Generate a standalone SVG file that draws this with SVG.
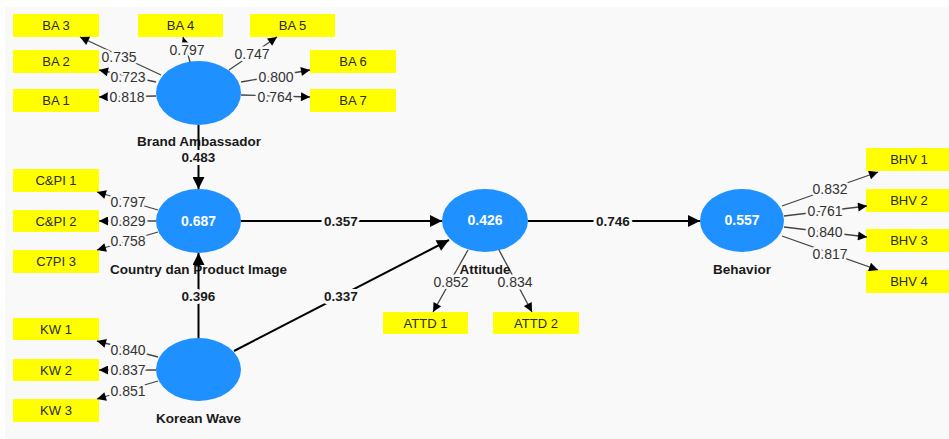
<svg xmlns="http://www.w3.org/2000/svg" width="949" height="439" viewBox="0 0 949 439">
<defs>
<style>
.box{fill:#ffff00}
.bt{font-family:"Liberation Sans",Arial,sans-serif;font-size:13px;fill:#2a2a2a;text-anchor:middle}
.lv{fill:#1e90ff}
.lvv{font-family:"Liberation Sans",Arial,sans-serif;font-size:14px;font-weight:bold;fill:#ffffff;text-anchor:middle}
.ln{font-family:"Liberation Sans",Arial,sans-serif;font-size:13.5px;font-weight:bold;fill:#1a1a1a;text-anchor:middle}
.ol{stroke:#444;stroke-width:1.3;fill:none;marker-end:url(#sa)}
.st{stroke:#000;stroke-width:2;fill:none;marker-end:url(#la)}
.olt{font-family:"Liberation Sans",Arial,sans-serif;font-size:14px;fill:#333;text-anchor:middle;paint-order:stroke;stroke:#f9f9f9;stroke-width:5px;stroke-linejoin:round}
.stt{font-family:"Liberation Sans",Arial,sans-serif;font-size:13.5px;font-weight:bold;fill:#1a1a1a;text-anchor:middle;paint-order:stroke;stroke:#f9f9f9;stroke-width:6px;stroke-linejoin:round}
</style>
<marker id="sa" viewBox="0 0 10 10" refX="10" refY="5" markerWidth="10" markerHeight="9" markerUnits="userSpaceOnUse" orient="auto"><path d="M0,0 L10,5 L0,10 z" fill="#000"/></marker>
<marker id="la" viewBox="0 0 10 10" refX="10" refY="5" markerWidth="13" markerHeight="12" markerUnits="userSpaceOnUse" orient="auto"><path d="M0,0 L10,5 L0,10 z" fill="#000"/></marker>
</defs>
<rect x="0" y="0" width="949" height="439" fill="#ffffff"/>
<rect x="5" y="7" width="944" height="432" fill="#f9f9f9"/>

<g id="ind-BA3"><rect class="box" x="13" y="14" width="86" height="23"/><text class="bt" x="56" y="25.5" dy="0.35em">BA 3</text></g>
<g id="ind-BA4"><rect class="box" x="138" y="14" width="85" height="23"/><text class="bt" x="180.5" y="25.5" dy="0.35em">BA 4</text></g>
<g id="ind-BA5"><rect class="box" x="250" y="14" width="85" height="23"/><text class="bt" x="292.5" y="25.5" dy="0.35em">BA 5</text></g>
<g id="ind-BA2"><rect class="box" x="13" y="50" width="86" height="23"/><text class="bt" x="56" y="61.5" dy="0.35em">BA 2</text></g>
<g id="ind-BA1"><rect class="box" x="13" y="89" width="86" height="23"/><text class="bt" x="56" y="100.5" dy="0.35em">BA 1</text></g>
<g id="ind-BA6"><rect class="box" x="310" y="50" width="86" height="23"/><text class="bt" x="353" y="61.5" dy="0.35em">BA 6</text></g>
<g id="ind-BA7"><rect class="box" x="310" y="89" width="86" height="23"/><text class="bt" x="353" y="100.5" dy="0.35em">BA 7</text></g>

<g id="ind-CPI1"><rect class="box" x="13" y="169" width="86" height="23"/><text class="bt" x="56" y="180.5" dy="0.35em">C&amp;PI 1</text></g>
<g id="ind-CPI2"><rect class="box" x="13" y="210" width="86" height="22"/><text class="bt" x="56" y="221" dy="0.35em">C&amp;PI 2</text></g>
<g id="ind-CPI3"><rect class="box" x="13" y="250" width="86" height="23"/><text class="bt" x="56" y="261.5" dy="0.35em">C7PI 3</text></g>

<g id="ind-KW1"><rect class="box" x="13" y="318" width="86" height="22"/><text class="bt" x="56" y="329" dy="0.35em">KW 1</text></g>
<g id="ind-KW2"><rect class="box" x="13" y="359" width="86" height="22"/><text class="bt" x="56" y="370" dy="0.35em">KW 2</text></g>
<g id="ind-KW3"><rect class="box" x="13" y="399" width="86" height="23"/><text class="bt" x="56" y="410.5" dy="0.35em">KW 3</text></g>

<g id="ind-ATTD1"><rect class="box" x="383" y="312" width="85" height="22"/><text class="bt" x="425.5" y="323" dy="0.35em">ATTD 1</text></g>
<g id="ind-ATTD2"><rect class="box" x="493" y="312" width="86" height="22"/><text class="bt" x="536" y="323" dy="0.35em">ATTD 2</text></g>

<g id="ind-BHV1"><rect class="box" x="866" y="148" width="86" height="23"/><text class="bt" x="909" y="159.5" dy="0.35em">BHV 1</text></g>
<g id="ind-BHV2"><rect class="box" x="866" y="189" width="86" height="23"/><text class="bt" x="909" y="200.5" dy="0.35em">BHV 2</text></g>
<g id="ind-BHV3"><rect class="box" x="866" y="229" width="86" height="23"/><text class="bt" x="909" y="240.5" dy="0.35em">BHV 3</text></g>
<g id="ind-BHV4"><rect class="box" x="866" y="270" width="86" height="23"/><text class="bt" x="909" y="281.5" dy="0.35em">BHV 4</text></g>

<g id="lv-BA"><ellipse class="lv" cx="198.5" cy="93" rx="42.5" ry="32"/><text class="ln" x="199" y="141" dy="0.35em">Brand Ambassador</text></g>
<g id="lv-CPI"><ellipse class="lv" cx="198.5" cy="221" rx="42.5" ry="32"/><text class="lvv" x="198.5" y="221" dy="0.35em">0.687</text><text class="ln" x="198.5" y="269" dy="0.35em">Country dan Product Image</text></g>
<g id="lv-KW"><ellipse class="lv" cx="198.5" cy="369.5" rx="42.5" ry="31.5"/><text class="ln" x="198.5" y="418" dy="0.35em">Korean Wave</text></g>
<g id="lv-ATT"><ellipse class="lv" cx="485" cy="220.5" rx="43" ry="31.5"/><text class="lvv" x="485" y="220.5" dy="0.35em">0.426</text></g>
<g id="lv-BEH"><ellipse class="lv" cx="742" cy="220.5" rx="42" ry="31.5"/><text class="lvv" x="742" y="220.5" dy="0.35em">0.557</text><text class="ln" x="742" y="269" dy="0.35em">Behavior</text></g>

<g id="connectors">
<line class="ol" x1="161" y1="75" x2="80" y2="37"/>
<line class="ol" x1="156" y1="82" x2="99" y2="70"/>
<line class="ol" x1="156" y1="96" x2="99" y2="97"/>
<line class="ol" x1="190" y1="62" x2="183" y2="37"/>
<line class="ol" x1="229" y1="70" x2="277" y2="37"/>
<line class="ol" x1="241" y1="82" x2="310" y2="70"/>
<line class="ol" x1="241" y1="95" x2="310" y2="97"/>
<line class="ol" x1="158" y1="210" x2="97" y2="192"/>
<line class="ol" x1="156" y1="221" x2="99" y2="221"/>
<line class="ol" x1="158" y1="232" x2="97" y2="250"/>
<line class="ol" x1="158" y1="357" x2="97" y2="341"/>
<line class="ol" x1="156" y1="370" x2="99" y2="370"/>
<line class="ol" x1="158" y1="381" x2="97" y2="399"/>
<line class="ol" x1="468" y1="250" x2="433" y2="312"/>
<line class="ol" x1="499" y1="250" x2="532" y2="312"/>
<line class="ol" x1="782" y1="206" x2="878" y2="172"/>
<line class="ol" x1="784" y1="216" x2="867" y2="206"/>
<line class="ol" x1="784" y1="227" x2="867" y2="237"/>
<line class="ol" x1="782" y1="236" x2="878" y2="270"/>

<line class="st" x1="198.5" y1="125" x2="198.5" y2="189"/>
<line class="st" x1="198.5" y1="338" x2="198.5" y2="253"/>
<line class="st" x1="241" y1="221" x2="442" y2="221"/>
<line class="st" x1="234" y1="351" x2="449" y2="240"/>
<line class="st" x1="528" y1="221" x2="700" y2="221"/>

<text class="olt" x="119" y="57" dy="0.35em">0.735</text>
<text class="olt" x="128" y="77" dy="0.35em">0.723</text>
<text class="olt" x="127" y="97" dy="0.35em">0.818</text>
<text class="olt" x="187" y="50" dy="0.35em">0.797</text>
<text class="olt" x="252" y="54" dy="0.35em">0.747</text>
<text class="olt" x="276" y="77" dy="0.35em">0.800</text>
<text class="olt" x="275" y="97" dy="0.35em">0.764</text>
<text class="olt" x="128" y="202" dy="0.35em">0.797</text>
<text class="olt" x="128" y="221" dy="0.35em">0.829</text>
<text class="olt" x="128" y="241" dy="0.35em">0.758</text>
<text class="olt" x="128" y="350" dy="0.35em">0.840</text>
<text class="olt" x="128" y="370" dy="0.35em">0.837</text>
<text class="olt" x="128" y="391" dy="0.35em">0.851</text>
<text class="olt" x="451" y="282" dy="0.35em">0.852</text>
<text class="olt" x="515" y="282" dy="0.35em">0.834</text>
<text class="olt" x="830" y="189" dy="0.35em">0.832</text>
<text class="olt" x="825" y="211" dy="0.35em">0.761</text>
<text class="olt" x="825" y="232" dy="0.35em">0.840</text>
<text class="olt" x="830" y="254" dy="0.35em">0.817</text>

<text class="stt" x="198.5" y="157" dy="0.35em">0.483</text>
<text class="stt" x="198.5" y="296" dy="0.35em">0.396</text>
<text class="stt" x="341" y="221" dy="0.35em">0.357</text>
<text class="stt" x="341" y="296" dy="0.35em">0.337</text>
<text class="stt" x="613" y="221" dy="0.35em">0.746</text>
<text class="ln" x="485" y="269" dy="0.35em">Attitude</text>
</g>
</svg>
